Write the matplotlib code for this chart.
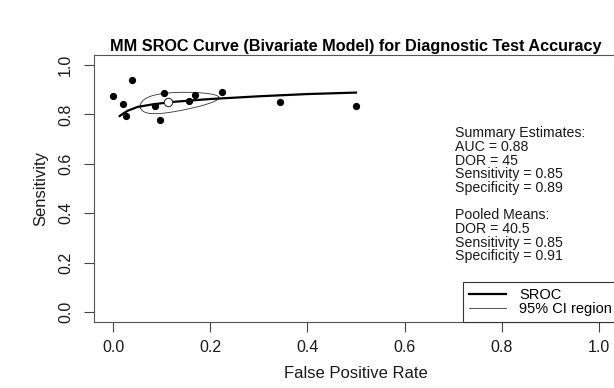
import matplotlib
matplotlib.use("Agg")
import matplotlib.pyplot as plt
import numpy as np

plt.rcParams['font.family'] = ['Liberation Sans', 'DejaVu Sans']

# study points (false positive rate, sensitivity)
study_fpr = [0.0, 0.039, 0.020, 0.026, 0.105, 0.085, 0.096, 0.168, 0.155, 0.223, 0.343, 0.50]
study_sens = [0.876, 0.940, 0.840, 0.794, 0.888, 0.835, 0.779, 0.878, 0.855, 0.890, 0.851, 0.835]

# SROC curve
sroc_fpr = [0.013, 0.02, 0.03, 0.05, 0.08, 0.12, 0.2, 0.3, 0.4, 0.5]
sroc_sens = [0.793, 0.803, 0.815, 0.830, 0.840, 0.850, 0.862, 0.873, 0.882, 0.888]

# summary point
summary_fpr = 0.113
summary_sens = 0.851

# 95% CI region: ellipse in logit space (centre, sd x, sd y, correlation)
ci_center = (np.log(0.113 / 0.887), np.log(0.851 / 0.149))
ci_sx = 0.78
ci_sy = 0.34
ci_rho = 0.40

summary_lines = ["Summary Estimates:", "AUC = 0.88", "DOR = 45",
                 "Sensitivity = 0.85", "Specificity = 0.89", "",
                 "Pooled Means:", "DOR = 40.5", "Sensitivity = 0.85",
                 "Specificity = 0.91"]
tick_labels = ["0.0", "0.2", "0.4", "0.6", "0.8", "1.0"]


def inv_logit(v):
    return 1.0 / (1.0 + np.exp(-v))


fig = plt.figure(figsize=(6.14, 3.88), dpi=100)
# plot region runs a little past the right edge of the picture, as in the original
ax = fig.add_axes([94 / 614, 66 / 388, 524 / 614, 267 / 388])

# confidence ellipse
t = np.linspace(0, 2 * np.pi, 200)
ex = ci_center[0] + ci_sx * np.cos(t)
ey = ci_center[1] + ci_sy * (ci_rho * np.cos(t) + np.sqrt(1 - ci_rho ** 2) * np.sin(t))
ax.plot(inv_logit(ex), inv_logit(ey), color="#333333", lw=0.6, label="95% CI region")

ax.plot(sroc_fpr, sroc_sens, color="black", lw=1.6, label="SROC")
ax.plot(study_fpr, study_sens, 'o', color="black", ms=4.2, zorder=3)
ax.plot([summary_fpr], [summary_sens], 'o', mfc="white", mec="#333333", ms=6, mew=0.8, zorder=4)

ax.set_xlim(-0.04, 1.04)
ax.set_ylim(-0.04, 1.04)
ax.set_xticks(np.arange(0, 1.01, 0.2))
ax.set_yticks(np.arange(0, 1.01, 0.2))
ax.set_xticklabels(tick_labels)
ax.set_yticklabels(tick_labels, rotation=90, va="center")
ax.tick_params(axis='x', length=7, width=0.8, pad=6, labelsize=11.5, colors="#444444", labelcolor="#1a1a1a")
ax.tick_params(axis='y', length=7, width=0.8, pad=8, labelsize=11.5, colors="#444444", labelcolor="#1a1a1a")
for s in ax.spines.values():
    s.set_color("#555555")
    s.set_linewidth(0.8)

ax.set_xlabel("False Positive Rate", fontsize=12, labelpad=8, color="#1a1a1a")
ax.set_ylabel("Sensitivity", fontsize=12, labelpad=7, color="#1a1a1a")
ax.set_title("MM SROC Curve (Bivariate Model) for Diagnostic Test Accuracy",
             fontsize=11.7, fontweight="bold", pad=3)

ax.text(0.689, 0.733, "\n".join(summary_lines), transform=ax.transAxes,
        fontsize=10.2, va="top", ha="left", linespacing=0.97, color="#1a1a1a")

handles, labels = ax.get_legend_handles_labels()
leg = ax.legend(handles[::-1], labels[::-1], loc="lower right", bbox_to_anchor=(1.0, 0.0),
                borderaxespad=0, fancybox=False, fontsize=10.5, handlelength=2.5,
                handletextpad=0.9, edgecolor="#333333", framealpha=1, borderpad=0.42,
                labelspacing=0.0)
leg.get_frame().set_linewidth(0.8)

fig.savefig("out.png", dpi=100)
